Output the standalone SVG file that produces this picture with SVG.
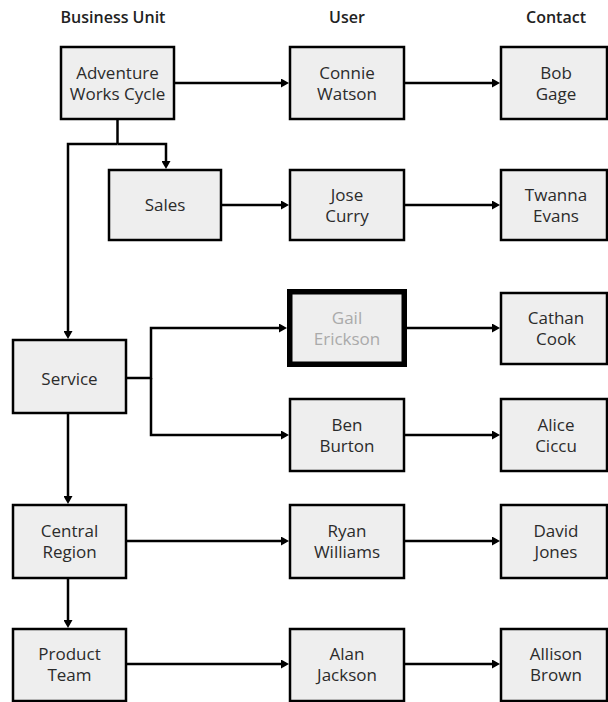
<svg xmlns="http://www.w3.org/2000/svg" width="608" height="702" viewBox="0 0 608 702">
<style>
.box{fill:#eeeeee;stroke:#000;stroke-width:2.5}
.sel{fill:#eeeeee;stroke:#000;stroke-width:5.5}
.t{font-family:"Open Sans","Noto Sans","Liberation Sans",sans-serif;font-size:17px;fill:#2b2b2b;text-anchor:middle}
.dim{fill:#aaaaaa}
.h{font-family:"Open Sans","Noto Sans","Liberation Sans",sans-serif;font-size:16px;font-weight:600;fill:#222;text-anchor:middle}
.c{fill:none;stroke:#000;stroke-width:2.5}
.a{marker-end:url(#arr)}
</style>
<defs>
<marker id="arr" markerUnits="userSpaceOnUse" markerWidth="8" markerHeight="9" refX="5" refY="4.5" orient="auto">
<path d="M0,0 L8,4.5 L0,9 z" fill="#000"/>
</marker>
</defs>
<rect width="608" height="702" fill="#fff"/>
<g id="headings">
<text class="h" x="113" y="23">Business Unit</text>
<text class="h" x="347" y="23">User</text>
<text class="h" x="556" y="23">Contact</text>
</g>
<g id="connectors">
<path class="c a" d="M175 83 H286"/>
<path class="c a" d="M405 83 H497"/>
<path class="c" d="M117.5 120 V144"/>
<path class="c a" d="M117.5 144 H166 V166"/>
<path class="c a" d="M117.5 144 H68 V336"/>
<path class="c a" d="M222 205 H286"/>
<path class="c a" d="M405 205 H497"/>
<path class="c a" d="M127 378 H151 V328 H284"/>
<path class="c a" d="M151 378 V435 H286"/>
<path class="c a" d="M407 328 H497"/>
<path class="c a" d="M405 435 H497"/>
<path class="c a" d="M68 414 V501"/>
<path class="c a" d="M127 541 H286"/>
<path class="c a" d="M405 541 H497"/>
<path class="c a" d="M68 579 V625"/>
<path class="c a" d="M127 664 H286"/>
<path class="c a" d="M405 664 H497"/>
</g>
<g id="adventure-works-cycle">
<rect class="box" x="61" y="47" width="113" height="72"/>
<text class="t" x="117.5" y="79">Adventure</text>
<text class="t" x="117.5" y="100">Works Cycle</text>
</g>
<g id="connie-watson">
<rect class="box" x="290" y="47" width="114" height="72"/>
<text class="t" x="347" y="79">Connie</text>
<text class="t" x="347" y="100">Watson</text>
</g>
<g id="bob-gage">
<rect class="box" x="501" y="47" width="106" height="72"/>
<text class="t" x="556" y="79">Bob</text>
<text class="t" x="556" y="100">Gage</text>
</g>
<g id="sales">
<rect class="box" x="109" y="170" width="112" height="70"/>
<text class="t" x="165" y="211">Sales</text>
</g>
<g id="jose-curry">
<rect class="box" x="290" y="170" width="114" height="70"/>
<text class="t" x="347" y="201">Jose</text>
<text class="t" x="347" y="222">Curry</text>
</g>
<g id="twanna-evans">
<rect class="box" x="501" y="170" width="106" height="70"/>
<text class="t" x="556" y="201">Twanna</text>
<text class="t" x="556" y="222">Evans</text>
</g>
<g id="gail-erickson">
<rect class="sel" x="289.75" y="291.75" width="114.5" height="72.5"/>
<text class="t dim" x="347" y="324">Gail</text>
<text class="t dim" x="347" y="345">Erickson</text>
</g>
<g id="cathan-cook">
<rect class="box" x="501" y="293" width="106" height="71"/>
<text class="t" x="556" y="324">Cathan</text>
<text class="t" x="556" y="345">Cook</text>
</g>
<g id="service">
<rect class="box" x="13" y="340" width="113" height="73"/>
<text class="t" x="69.5" y="385">Service</text>
</g>
<g id="ben-burton">
<rect class="box" x="290" y="399" width="114" height="72"/>
<text class="t" x="347" y="431">Ben</text>
<text class="t" x="347" y="452">Burton</text>
</g>
<g id="alice-ciccu">
<rect class="box" x="501" y="399" width="106" height="72"/>
<text class="t" x="556" y="431">Alice</text>
<text class="t" x="556" y="452">Ciccu</text>
</g>
<g id="central-region">
<rect class="box" x="13" y="505" width="113" height="73"/>
<text class="t" x="69.5" y="537">Central</text>
<text class="t" x="69.5" y="558">Region</text>
</g>
<g id="ryan-williams">
<rect class="box" x="290" y="505" width="114" height="73"/>
<text class="t" x="347" y="537">Ryan</text>
<text class="t" x="347" y="558">Williams</text>
</g>
<g id="david-jones">
<rect class="box" x="501" y="505" width="106" height="73"/>
<text class="t" x="556" y="537">David</text>
<text class="t" x="556" y="558">Jones</text>
</g>
<g id="product-team">
<rect class="box" x="13" y="629" width="113" height="72"/>
<text class="t" x="69.5" y="660">Product</text>
<text class="t" x="69.5" y="681">Team</text>
</g>
<g id="alan-jackson">
<rect class="box" x="290" y="629" width="114" height="72"/>
<text class="t" x="347" y="660">Alan</text>
<text class="t" x="347" y="681">Jackson</text>
</g>
<g id="allison-brown">
<rect class="box" x="501" y="629" width="106" height="72"/>
<text class="t" x="556" y="660">Allison</text>
<text class="t" x="556" y="681">Brown</text>
</g>
</svg>
